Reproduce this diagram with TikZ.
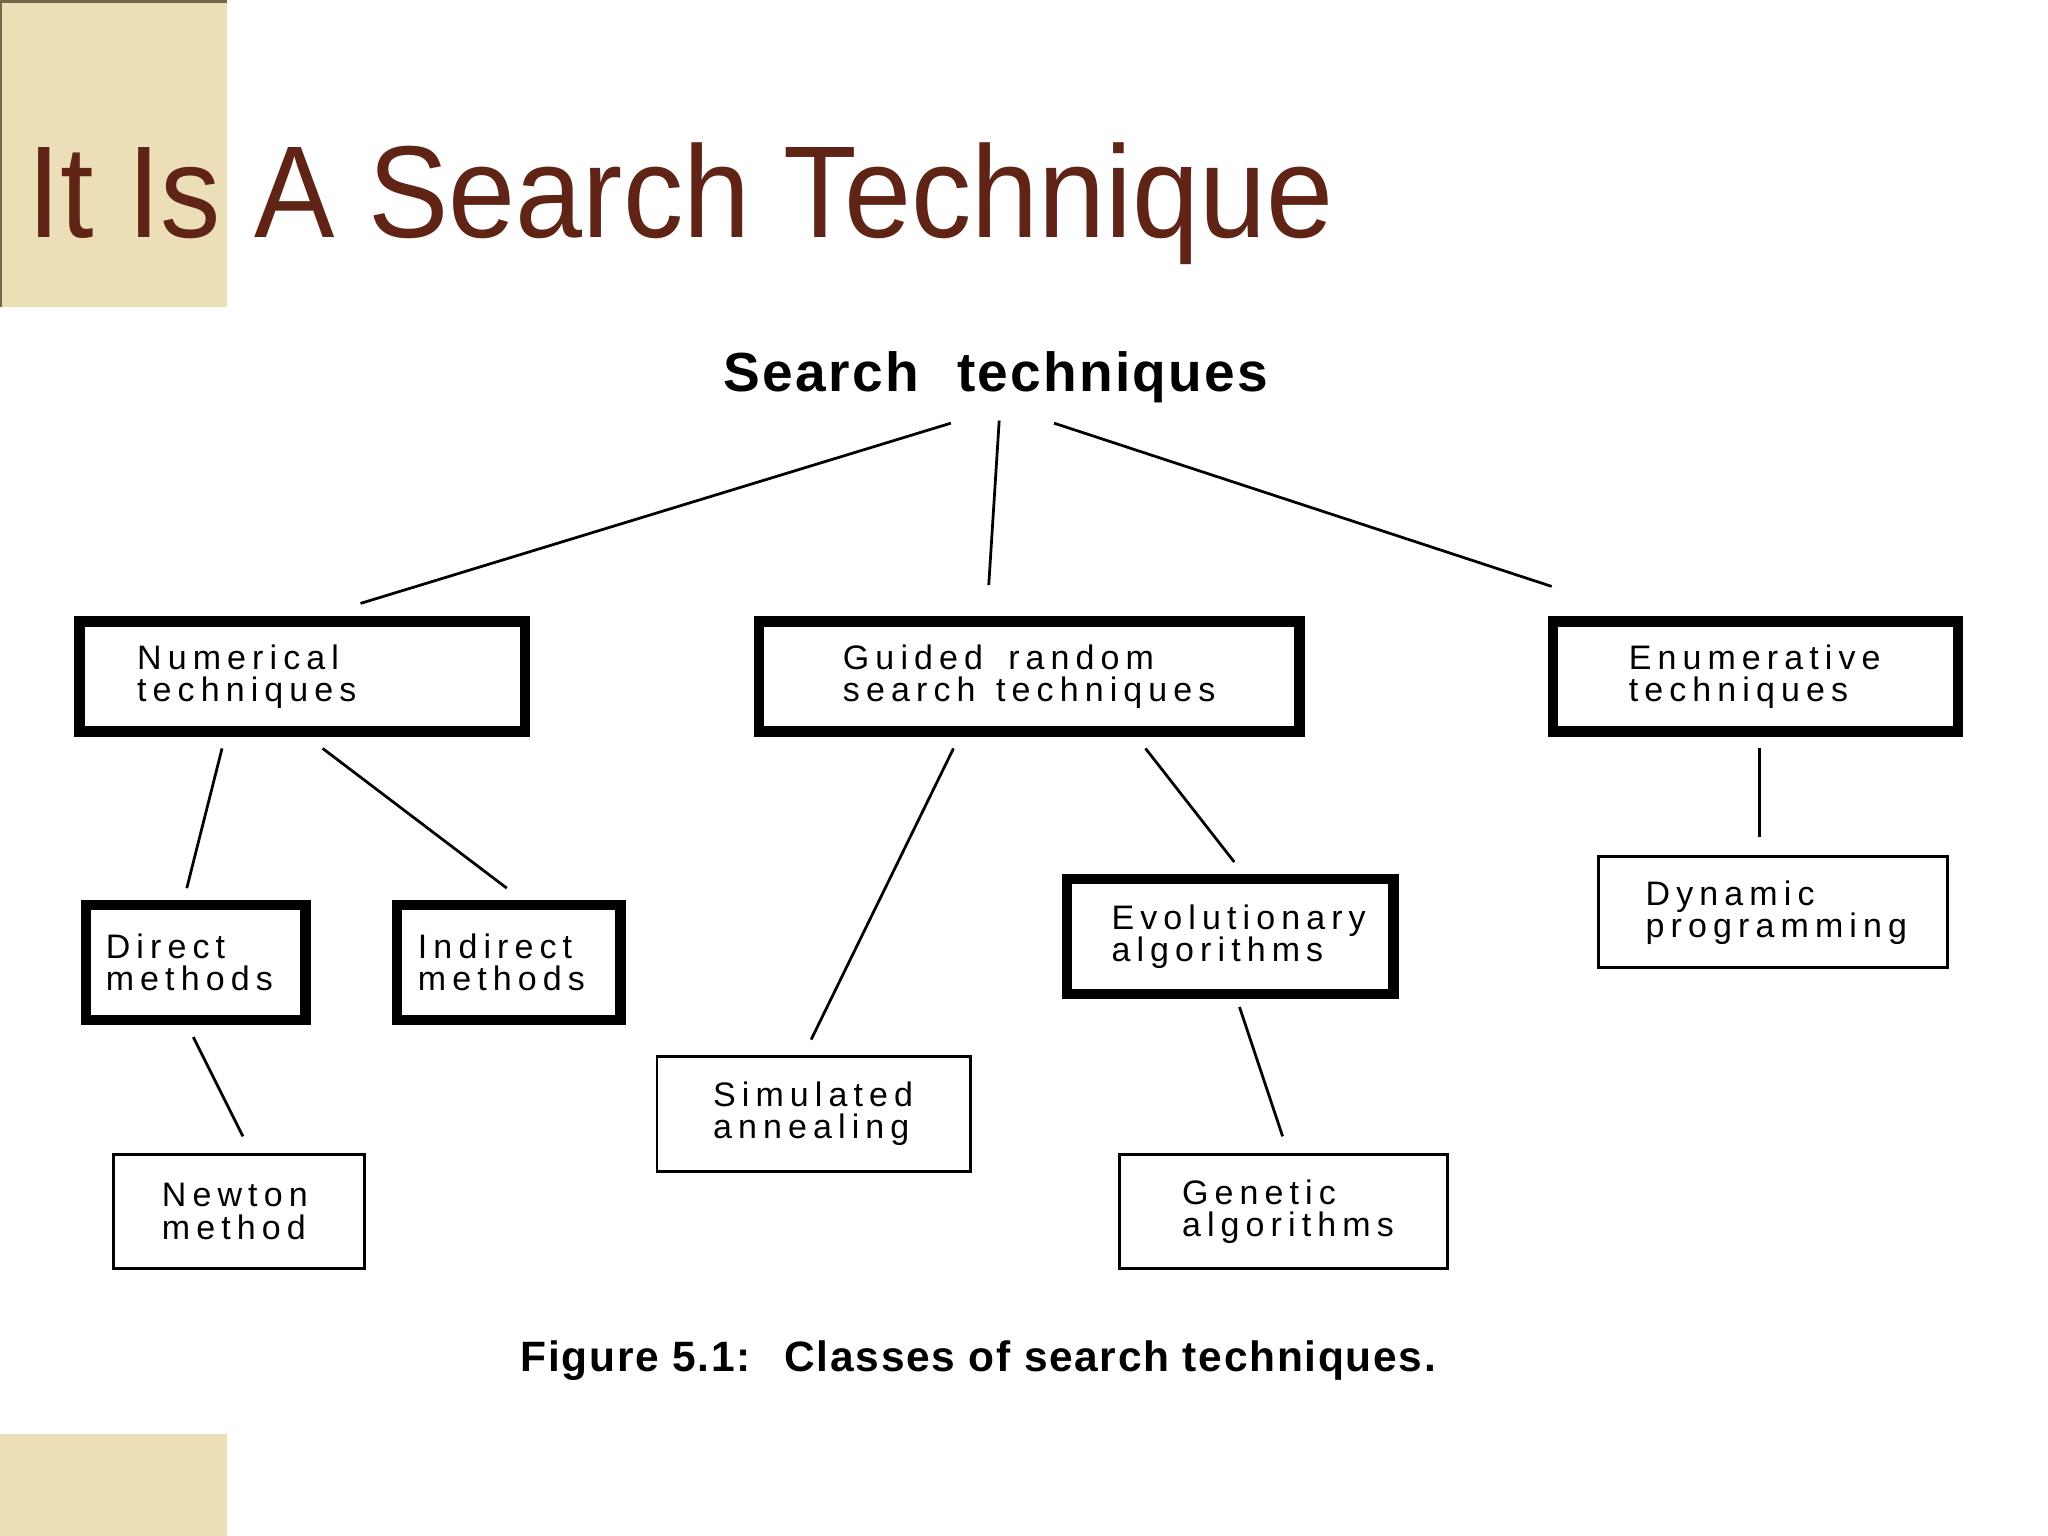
\documentclass[tikz,border=0pt]{standalone}
\usepackage{fontspec}
\setmainfont{Liberation Sans}
\newfontfamily\boxfont[LetterSpace=18]{Liberation Sans}
\newfontfamily\headfont[LetterSpace=4]{Liberation Sans}
\usetikzlibrary{positioning,calc}
\definecolor{titlebrown}{RGB}{96,36,22}
\definecolor{sand}{RGB}{236,222,182}
\definecolor{sandedge}{RGB}{120,100,70}
\hyphenpenalty=10000
\tikzset{
  classbox/.style={draw, line width=0.08cm, align=left, inner ysep=0pt,
    font=\boxfont\fontsize{7.4pt}{7.0pt}\selectfont},
  methodbox/.style={classbox, line width=0.022cm},
  link/.style={line width=0.6pt}
}
\begin{document}
\begin{tikzpicture}
    \fill[white] (0,0) rectangle (15.68,-11.76);
    \useasboundingbox (0,0) rectangle (15.68,-11.76);
    \fill[sand] (0,0) rectangle (1.74,-2.35);
    \fill[sand] (0,-10.98) rectangle (1.74,-11.76);
    \draw[sandedge, line width=0.4pt] (0.01,0) -- (0.01,-2.35);
    \draw[sandedge, line width=0.6pt] (0,-0.01) -- (1.74,-0.01);
    \node[anchor=base west, inner sep=0, text=titlebrown, font=\fontsize{28.5pt}{30pt}\selectfont] (title) at (0.20,-1.82) {\scalebox{0.921}[1]{It Is A Search Technique}};

    % the tree
    \node[anchor=base, inner sep=0, font=\headfont\bfseries\fontsize{12pt}{12pt}\selectfont] (st) at (7.625,-3.00) {Search\hspace{0.7em}techniques};
    \node[classbox, text width=2.53cm, inner xsep=0.44cm, minimum height=0.84cm] (num) at (2.315,-5.18) {Numerical\\techniques};
    \node[classbox, minimum width=4.14cm, minimum height=0.84cm] (grs) at (7.88,-5.18) {Guided\hspace{5.5pt}random\\search\hspace{4.5pt}techniques};
    \node[classbox, text width=1.94cm, inner xsep=0.58cm, minimum height=0.84cm] (enu) at (13.44,-5.18) {Enumerative\\techniques};
    \node[classbox, text width=1.38cm, inner xsep=0.15cm, minimum height=0.88cm] (dir) at (1.50,-7.37) {Direct\\methods};
    \node[classbox, text width=1.39cm, inner xsep=0.16cm, minimum height=0.88cm] (ind) at (3.895,-7.37) {Indirect\\methods};
    \node[classbox, text width=1.82cm, inner xsep=0.34cm, minimum height=0.88cm] (evo) at (9.42,-7.17) {Evolutionary\\algorithms};
    \node[methodbox, text width=1.95cm, inner xsep=0.36cm, minimum height=0.85cm] (dyn) at (13.575,-6.985) {Dynamic\\programming};
    \node[methodbox, text width=1.54cm, inner xsep=0.43cm, minimum height=0.88cm] (sim) at (6.23,-8.53) {Simulated\\annealing};
    \node[methodbox, text width=1.18cm, inner xsep=0.37cm, minimum height=0.87cm] (nwt) at (1.83,-9.275) {Newton\\method};
    \node[methodbox, text width=1.55cm, inner xsep=0.48cm, minimum height=0.87cm] (gen) at (9.825,-9.275) {Genetic\\algorithms};

    \foreach \from/\fx/\fy/\to/\tx/\ty in {
        st.base/-0.345/-0.24/num.center/0.445/0.56,
        st.base/0.025/-0.22/grs.center/-0.31/0.70,
        st.base/0.445/-0.24/enu.center/-1.56/0.69,
        num.center/-0.615/-0.55/dir.center/-0.07/0.57,
        num.center/0.155/-0.55/ind.center/-0.015/0.57,
        grs.center/-0.58/-0.55/sim.center/-0.02/0.57,
        grs.center/0.89/-0.55/evo.center/0.03/0.57,
        enu.center/0.03/-0.55/dyn.center/-0.105/0.575,
        dir.center/-0.02/-0.57/nwt.center/0.03/0.575,
        evo.center/0.07/-0.54/gen.center/-0.005/0.575} {
        \draw[link] ([shift={(\fx,\fy)}]\from) -- ([shift={(\tx,\ty)}]\to);
    }

    \node[anchor=base, inner sep=0, font=\headfont\bfseries\fontsize{9.25pt}{9.25pt}\selectfont] (cap) at (7.49,-10.50) {Figure 5.1:\hspace{0.8em}Classes of search techniques.};
\end{tikzpicture}
\end{document}
